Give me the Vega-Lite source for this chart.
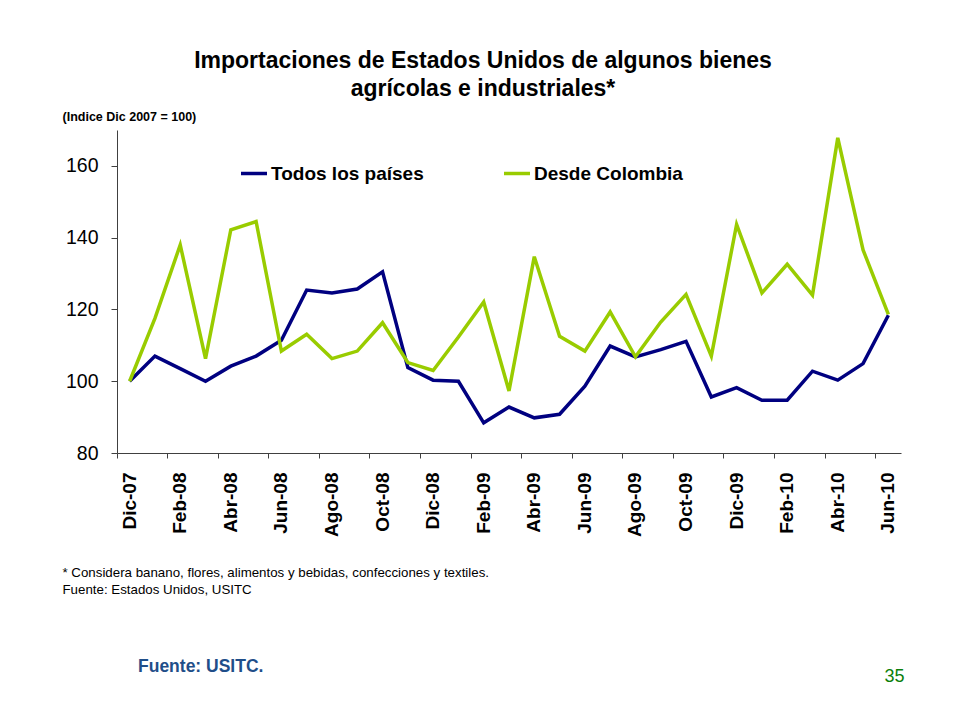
{
  "$schema": "https://vega.github.io/schema/vega-lite/v6.json",
  "width": 784,
  "height": 323,
  "autosize": {"type": "none"},
  "padding": {"left": 117, "top": 130, "right": 59, "bottom": 268},
  "background": "white",
  "config": {
    "view": {"stroke": null},
    "font": "Liberation Sans",
    "axis": {"grid": false}
  },
  "title": {
    "text": ["Importaciones de Estados Unidos de algunos bienes", "agrícolas e industriales*"],
    "font": "Liberation Sans",
    "fontSize": 23,
    "fontWeight": "bold",
    "color": "#000000",
    "anchor": "middle",
    "frame": "group",
    "dx": -26,
    "offset": 10,
    "lineHeight": 28
  },
  "data": {
    "values": [
      {"mes": "Dic-07", "serie": "Todos los países", "valor": 100.0},
      {"mes": "Ene-08", "serie": "Todos los países", "valor": 107.0},
      {"mes": "Feb-08", "serie": "Todos los países", "valor": 103.5},
      {"mes": "Mar-08", "serie": "Todos los países", "valor": 100.0},
      {"mes": "Abr-08", "serie": "Todos los países", "valor": 104.2},
      {"mes": "May-08", "serie": "Todos los países", "valor": 107.0},
      {"mes": "Jun-08", "serie": "Todos los países", "valor": 111.4},
      {"mes": "Jul-08", "serie": "Todos los países", "valor": 125.4},
      {"mes": "Ago-08", "serie": "Todos los países", "valor": 124.6},
      {"mes": "Sep-08", "serie": "Todos los países", "valor": 125.7},
      {"mes": "Oct-08", "serie": "Todos los países", "valor": 130.5},
      {"mes": "Nov-08", "serie": "Todos los países", "valor": 103.8},
      {"mes": "Dic-08", "serie": "Todos los países", "valor": 100.3},
      {"mes": "Ene-09", "serie": "Todos los países", "valor": 100.0},
      {"mes": "Feb-09", "serie": "Todos los países", "valor": 88.4},
      {"mes": "Mar-09", "serie": "Todos los países", "valor": 92.8},
      {"mes": "Abr-09", "serie": "Todos los países", "valor": 89.8},
      {"mes": "May-09", "serie": "Todos los países", "valor": 90.8},
      {"mes": "Jun-09", "serie": "Todos los países", "valor": 98.6},
      {"mes": "Jul-09", "serie": "Todos los países", "valor": 109.8},
      {"mes": "Ago-09", "serie": "Todos los países", "valor": 106.8},
      {"mes": "Sep-09", "serie": "Todos los países", "valor": 108.8},
      {"mes": "Oct-09", "serie": "Todos los países", "valor": 111.1},
      {"mes": "Nov-09", "serie": "Todos los países", "valor": 95.6},
      {"mes": "Dic-09", "serie": "Todos los países", "valor": 98.2},
      {"mes": "Ene-10", "serie": "Todos los países", "valor": 94.7},
      {"mes": "Feb-10", "serie": "Todos los países", "valor": 94.7},
      {"mes": "Mar-10", "serie": "Todos los países", "valor": 102.8},
      {"mes": "Abr-10", "serie": "Todos los países", "valor": 100.3},
      {"mes": "May-10", "serie": "Todos los países", "valor": 104.9},
      {"mes": "Jun-10", "serie": "Todos los países", "valor": 118.4},
      {"mes": "Dic-07", "serie": "Desde Colombia", "valor": 100.0},
      {"mes": "Ene-08", "serie": "Desde Colombia", "valor": 117.5},
      {"mes": "Feb-08", "serie": "Desde Colombia", "valor": 138.0},
      {"mes": "Mar-08", "serie": "Desde Colombia", "valor": 106.3},
      {"mes": "Abr-08", "serie": "Desde Colombia", "valor": 142.2},
      {"mes": "May-08", "serie": "Desde Colombia", "valor": 144.5},
      {"mes": "Jun-08", "serie": "Desde Colombia", "valor": 108.4},
      {"mes": "Jul-08", "serie": "Desde Colombia", "valor": 113.1},
      {"mes": "Ago-08", "serie": "Desde Colombia", "valor": 106.3},
      {"mes": "Sep-08", "serie": "Desde Colombia", "valor": 108.4},
      {"mes": "Oct-08", "serie": "Desde Colombia", "valor": 116.3},
      {"mes": "Nov-08", "serie": "Desde Colombia", "valor": 105.2},
      {"mes": "Dic-08", "serie": "Desde Colombia", "valor": 103.0},
      {"mes": "Ene-09", "serie": "Desde Colombia", "valor": 112.3},
      {"mes": "Feb-09", "serie": "Desde Colombia", "valor": 122.1},
      {"mes": "Mar-09", "serie": "Desde Colombia", "valor": 97.3},
      {"mes": "Abr-09", "serie": "Desde Colombia", "valor": 134.7},
      {"mes": "May-09", "serie": "Desde Colombia", "valor": 112.5},
      {"mes": "Jun-09", "serie": "Desde Colombia", "valor": 108.4},
      {"mes": "Jul-09", "serie": "Desde Colombia", "valor": 119.3},
      {"mes": "Ago-09", "serie": "Desde Colombia", "valor": 106.8},
      {"mes": "Sep-09", "serie": "Desde Colombia", "valor": 116.5},
      {"mes": "Oct-09", "serie": "Desde Colombia", "valor": 124.2},
      {"mes": "Nov-09", "serie": "Desde Colombia", "valor": 107.0},
      {"mes": "Dic-09", "serie": "Desde Colombia", "valor": 143.7},
      {"mes": "Ene-10", "serie": "Desde Colombia", "valor": 124.6},
      {"mes": "Feb-10", "serie": "Desde Colombia", "valor": 132.6},
      {"mes": "Mar-10", "serie": "Desde Colombia", "valor": 124.0},
      {"mes": "Abr-10", "serie": "Desde Colombia", "valor": 167.8},
      {"mes": "May-10", "serie": "Desde Colombia", "valor": 136.6},
      {"mes": "Jun-10", "serie": "Desde Colombia", "valor": 118.6}
    ]
  },
  "resolve": {"axis": {"x": "independent", "y": "independent"}},
  "layer": [
    {
      "mark": {"type": "line", "strokeWidth": 3.5, "strokeJoin": "miter", "strokeCap": "butt"},
      "encoding": {
        "x": {
          "field": "mes",
          "type": "ordinal",
          "sort": null,
          "bandPosition": 0.5,
          "scale": {"type": "band", "paddingInner": 0, "paddingOuter": 0},
          "axis": {
            "orient": "bottom",
            "values": ["Dic-07", "Feb-08", "Abr-08", "Jun-08", "Ago-08", "Oct-08", "Dic-08", "Feb-09", "Abr-09", "Jun-09", "Ago-09", "Oct-09", "Dic-09", "Feb-10", "Abr-10", "Jun-10"],
            "bandPosition": 0,
            "labelAngle": -90,
            "labelFont": "Liberation Sans",
            "labelFontSize": 19,
            "labelFontWeight": "bold",
            "labelColor": "#000000",
            "labelPadding": 14,
            "labelOverlap": false,
            "tickSize": 5,
            "tickColor": "#404040",
            "domainColor": "#404040",
            "title": ["* Considera  banano, flores, alimentos  y bebidas, confecciones y textiles.", "Fuente:  Estados Unidos, USITC"],
            "titleFont": "Liberation Sans",
            "titleFontSize": 13.3,
            "titleFontWeight": "normal",
            "titleColor": "#000000",
            "titleAlign": "left",
            "titleAnchor": "start",
            "titleBaseline": "alphabetic",
            "titleLineHeight": 17.5,
            "titleX": -55,
            "titleY": 123,
            "titleAngle": 0
          }
        },
        "y": {
          "field": "valor",
          "type": "quantitative",
          "scale": {"domain": [80, 170], "nice": false, "zero": false},
          "axis": {
            "orient": "left",
            "values": [80, 100, 120, 140, 160],
            "labelFont": "Liberation Sans",
            "labelFontSize": 19.5,
            "labelColor": "#000000",
            "labelPadding": 13,
            "tickSize": 6,
            "tickColor": "#404040",
            "domainColor": "#404040",
            "title": "(Indice Dic 2007 = 100)",
            "titleFont": "Liberation Sans",
            "titleFontSize": 12.5,
            "titleFontWeight": "bold",
            "titleColor": "#000000",
            "titleAngle": 0,
            "titleAlign": "left",
            "titleBaseline": "middle",
            "titleX": -55,
            "titleY": -13.5
          }
        },
        "color": {
          "field": "serie",
          "type": "nominal",
          "scale": {"domain": ["Todos los países", "Desde Colombia"], "range": ["#000080", "#99CC00"]},
          "legend": {
            "orient": "none",
            "legendX": 122,
            "legendY": 28.5,
            "direction": "horizontal",
            "title": null,
            "padding": 0,
            "columnPadding": 73,
            "symbolType": "stroke",
            "symbolSize": 676,
            "symbolStrokeWidth": 3.5,
            "labelOffset": 2,
            "labelFont": "Liberation Sans",
            "labelFontSize": 19,
            "labelFontWeight": "bold",
            "labelColor": "#000000",
            "labelLimit": 400
          }
        }
      }
    },
    {
      "mark": {"type": "line", "opacity": 0},
      "encoding": {
        "x": {
          "field": "mes",
          "type": "ordinal",
          "sort": null,
          "axis": {
            "orient": "top",
            "labels": false,
            "ticks": false,
            "domain": false,
            "title": "Fuente: USITC.",
            "titleFont": "Liberation Sans",
            "titleFontSize": 17.5,
            "titleFontWeight": "bold",
            "titleColor": "#1F4E89",
            "titleAngle": 0,
            "titleAlign": "left",
            "titleBaseline": "middle",
            "titleX": 20.5,
            "titleY": 536.7
          }
        },
        "y": {
          "field": "valor",
          "type": "quantitative",
          "axis": {
            "orient": "right",
            "labels": false,
            "ticks": false,
            "domain": false,
            "title": "35",
            "titleFont": "Liberation Sans",
            "titleFontSize": 18,
            "titleFontWeight": "normal",
            "titleColor": "#0A7F0A",
            "titleAngle": 0,
            "titleAlign": "left",
            "titleBaseline": "middle",
            "titleX": -17,
            "titleY": 546
          }
        }
      }
    }
  ]
}
